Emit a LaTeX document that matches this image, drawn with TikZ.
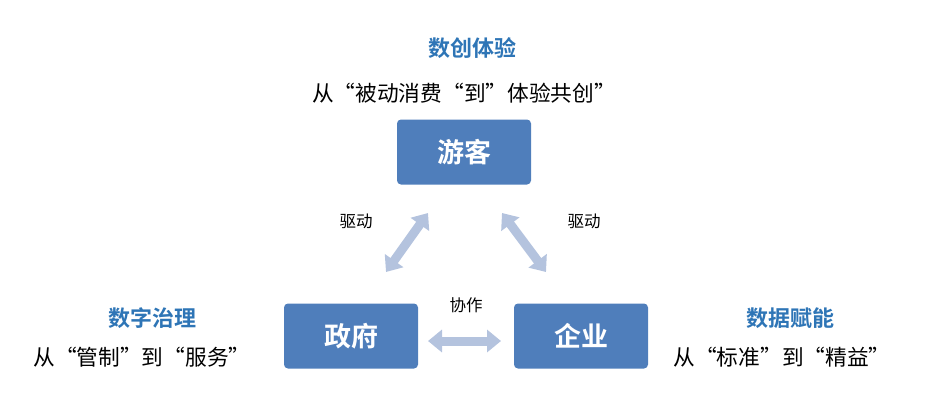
\documentclass[tikz,border=0pt]{standalone}
\usepackage{fontspec}
\newfontfamily\cjk{Noto Sans CJK SC}
\newfontfamily\cjkb{Noto Sans CJK SC Bold}
\usetikzlibrary{arrows.meta}
\definecolor{boxc}{HTML}{4F7EBB}
\definecolor{arrc}{HTML}{B4C3DE}
\definecolor{titc}{HTML}{2E75B6}
\begin{document}
\begin{tikzpicture}[x=1pt,y=-1pt,
 box/.style={fill=boxc,rounded corners=4pt,minimum width=134pt,minimum height=65pt,text=white,font=\cjkb\fontsize{27}{27}\selectfont},
 fat/.style={arrc,line width=9pt,{Triangle[width=22pt,length=14pt]}-{Triangle[width=22pt,length=14pt]}},
 tit/.style={text=titc,font=\cjkb\fontsize{22}{22}\selectfont},
 sub/.style={font=\cjk\fontsize{21.7}{21.7}\selectfont},
 lab/.style={font=\cjk\fontsize{16.5}{16.5}\selectfont}]
\useasboundingbox (0,0) rectangle (945,400);
\node[box] (yk) at (464,152) {游客};
\node[box] (zf) at (351,336) {政府};
\node[box] (qy) at (581,336) {企业};
\node[tit] (t1) at (472,48) {数创体验};
\node[sub] (s1) at (464,93) {从“被动消费“到”体验共创”};
\node[tit] (t2) at (152,318) {数字治理};
\node[sub] (s2) at (142,357) {从“管制”到“服务”};
\node[tit] (t3) at (790,318) {数据赋能};
\node[sub] (s3) at (782,357) {从“标准”到“精益”};
\coordinate (a1) at (386,272); \coordinate (a2) at (428,213);
\coordinate (b1) at (502,213); \coordinate (b2) at (546,272);
\coordinate (c1) at (428,341); \coordinate (c2) at (501,341);
\draw[fat] (a1) -- (a2);
\draw[fat] (b1) -- (b2);
\draw[fat] (c1) -- (c2);
\node[lab] (l1) at (356,221) {驱动};
\node[lab] (l2) at (584,221) {驱动};
\node[lab] (l3) at (466,305) {协作};
\end{tikzpicture}
\end{document}
